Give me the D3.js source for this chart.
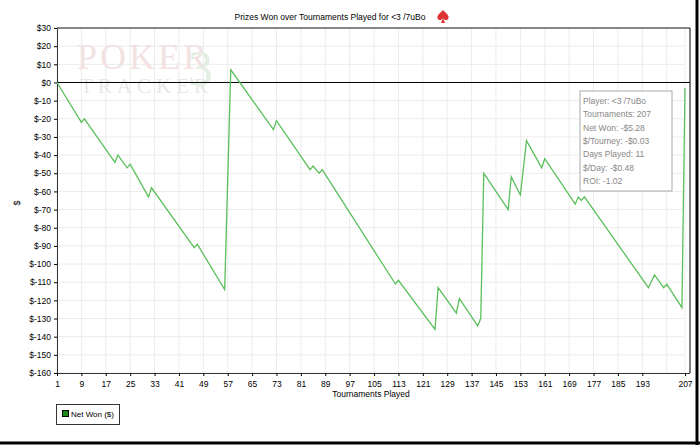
<!DOCTYPE html><html><head><meta charset="utf-8"><script src="https://cdn.jsdelivr.net/npm/d3@7"></script>
<style>body{margin:0;background:#fff}</style></head><body><svg id="c" width="700" height="445" font-family="Liberation Sans, Arial, sans-serif"></svg>
<script>
const tournaments=[1,9,10,20,21,24,25,31,32,46,47,56,58,72,73,84,85,87,88,112,113,125,126,132,133,139,140,141,149,150,153,155,160,161,171,172,173,174,195,197,200,201,206,207];
const netWon=[0,-22,-20,-44,-40,-47,-45,-63,-58,-91,-89,-114,7,-26,-21,-48,-46,-50,-48,-111,-109,-136,-113,-127,-119,-134,-130,-50,-70,-52,-62,-32,-47,-42,-67,-63,-65,-63,-113,-106,-113,-111,-124,-3];
const xTicks=[1,9,17,25,33,41,49,57,65,73,81,89,97,105,113,121,129,137,145,153,161,169,177,185,193,207];
const yTicks=d3.range(-160,31,10);
const info=["Player: <3 /7uBo","Tournaments: 207","Net Won: -$5.28","$/Tourney: -$0.03","Days Played: 11","$/Day: -$0.48","ROI: -1.02"];
const svg=d3.select("#c");
const L=57,R=685,T=28,B=373;
const x=d3.scaleLinear().domain([1,207]).range([L,R]);
const y=d3.scaleLinear().domain([-160,30]).range([B,T]);
svg.append("line").attr("x1",697).attr("x2",697).attr("y1",0).attr("y2",445).attr("stroke","#000").attr("stroke-width",3);
svg.append("line").attr("x1",0).attr("x2",700).attr("y1",443).attr("y2",443).attr("stroke","#000").attr("stroke-width",3);
const g=svg.append("g");
g.selectAll(".gx").data(xTicks.concat([201])).join("line").attr("x1",d=>x(d)).attr("x2",d=>x(d)).attr("y1",T).attr("y2",B).attr("stroke","#ececec");
g.selectAll(".gy").data(yTicks).join("line").attr("x1",L).attr("x2",R).attr("y1",d=>y(d)).attr("y2",d=>y(d)).attr("stroke","#ececec");
const serif="Liberation Serif, serif";
svg.append("text").attr("x",77).attr("y",69).text("POKER").attr("font-size",36).attr("font-family",serif).attr("fill","#f3e2e2").attr("letter-spacing",3);
svg.append("text").attr("x",80).attr("y",93).text("TRACKER").attr("font-size",21).attr("font-family",serif).attr("fill","#e8e8e8").attr("letter-spacing",5);
svg.append("text").attr("x",188).attr("y",85).text("3").attr("font-size",50).attr("font-family",serif).attr("fill","#e4efe4");
svg.append("line").attr("x1",L).attr("x2",R+5).attr("y1",T).attr("y2",T).attr("stroke","#888").attr("stroke-width",2);
svg.append("line").attr("x1",R+5).attr("x2",R+5).attr("y1",T).attr("y2",B).attr("stroke","#000");
svg.append("line").attr("x1",L).attr("x2",R+5).attr("y1",y(0)).attr("y2",y(0)).attr("stroke","#000");
const ax=svg.append("g").attr("transform",`translate(0,${B})`).call(d3.axisBottom(x).tickValues(xTicks).tickSize(3).tickSizeOuter(0));
const ay=svg.append("g").attr("transform",`translate(${L},0)`).call(d3.axisLeft(y).tickValues(yTicks).tickSize(3).tickSizeOuter(0).tickFormat(d=>"$"+d));
[ax,ay].forEach(a=>{a.attr("font-family",null);a.selectAll("text").attr("font-size",8.5).attr("fill","#000");a.select(".domain").attr("stroke","#333")});
ax.select(".domain").attr("d",`M${L},0.5H${R+5}`);
ax.selectAll("text").attr("dy","0.9em");
svg.append("path").datum(tournaments.map((t,i)=>[t,netWon[i]])).attr("d",d3.line().x(d=>x(d[0])).y(d=>y(d[1]))).attr("fill","none").attr("stroke","#5cbf5c").attr("stroke-width",1.3);
const bx=580,by=91;
svg.append("rect").attr("x",bx).attr("y",by).attr("width",92).attr("height",100).attr("fill","#fff").attr("fill-opacity",0.85).attr("stroke","#aaa");
info.forEach((s,i)=>svg.append("text").attr("x",bx+3).attr("y",by+13+i*13.3).text(s).attr("font-size",8.5).attr("fill","#888"));
svg.append("text").attr("x",330).attr("y",20).attr("text-anchor","middle").attr("font-size",8.5).text("Prizes Won over Tournaments Played for <3 /7uBo");
svg.append("path").attr("d","M443,10 C447,14 450,16 448,19 C447,21 444,20 443,18 C442,20 439,21 438,19 C436,16 439,14 443,10Z M443,18 L441,23 L445,23Z").attr("fill","#d33");
svg.append("text").attr("x",371).attr("y",397).attr("text-anchor","middle").attr("font-size",8.5).text("Tournaments Played");
svg.append("text").attr("x",20).attr("y",203).attr("text-anchor","middle").attr("font-size",9).attr("transform","rotate(-90,20,203)").text("$");
svg.append("rect").attr("x",56.5).attr("y",404.5).attr("width",63).attr("height",20).attr("fill","#fff").attr("stroke","#333");
svg.append("rect").attr("x",62.5).attr("y",410.5).attr("width",6).attr("height",6).attr("fill","#1a8a1a").attr("stroke","#000");
svg.append("text").attr("x",71).attr("y",417).attr("font-size",8).text("Net Won ($)");
</script></body></html>
